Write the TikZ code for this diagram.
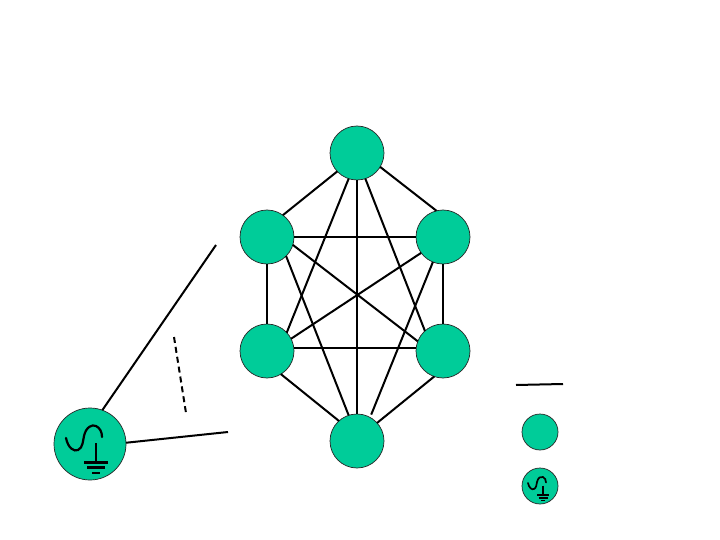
\documentclass[tikz,border=0pt]{standalone}
\definecolor{nodegreen}{HTML}{00CC99}
\tikzset{
  x=1pt,y=-1pt,
  station/.style={circle,draw=black!85,line width=.7pt,fill=nodegreen,inner sep=0pt,outer sep=0pt,minimum size=54pt},
  bigsource/.style={station,minimum size=72pt},
  smallnode/.style={station,minimum size=36pt},
  link/.style={draw=black,line width=2pt},
  srcline/.style={draw=black,line width=2.2pt},
  srcsym/.pic={
    \draw[srcline,line cap=round] (-24,-6) .. controls (-22,4) and (-16,8) .. (-12,6) .. controls (-7,4) and (-7,-4) .. (-6,-8) .. controls (-4,-17) and (2,-20) .. (6,-18) .. controls (10,-16) and (12,-12) .. (12,-7);
    \draw[srcline] (6,-1) -- (6,18);
    \draw[srcline] (-6,18.5) -- (18,18.5);
    \draw[srcline] (-3,23.5) -- (15,23.5);
    \draw[srcline] (2,29) -- (10,29);
  }
}
\begin{document}
\begin{tikzpicture}
\useasboundingbox (0,0) rectangle (720,540);
\fill[white] (0,0) rectangle (720,540);
\node[station] (T) at (357,153) {};
\node[station] (UL) at (267,237) {};
\node[station] (UR) at (443,237) {};
\node[station] (LL) at (267,351) {};
\node[station] (LR) at (443,351) {};
\node[station] (B) at (357,441) {};
\node[bigsource] (S) at (90,444) {};
\node[smallnode] (KN) at (540,432) {};
\node[smallnode] (KS) at (540,486) {};
\pic at (S.center) {srcsym};
\begin{scope}[srcline/.style={draw=black,line width=1.7pt}]
\pic[scale=.5] at (KS.center) {srcsym};
\end{scope}
\coordinate (f1) at (216,245);
\coordinate (f2) at (228,432);
\coordinate (d1) at (174,337);
\coordinate (d2) at (186,413);
\coordinate (k1) at (516,385);
\coordinate (k2) at (563,384);
\draw[link] (T.223) -- (UL.54);
\draw[link] (T.-31) -- (UR.104);
\draw[link] (T.-108) -- (LL.43);
\draw[link] (T.-72) -- (LR.132);
\draw[link] (T) -- (B);
\draw[link] (UL) -- (UR);
\draw[link] (UL) -- (LL);
\draw[link] (UR) -- (LR);
\draw[link] (LL.6) -- (LR.174);
\draw[link] (UL.-17) -- (LR.159);
\draw[link] (UR.216) -- (LL.27);
\draw[link] (UL.-45) -- (B.108);
\draw[link,shorten >=3pt] (UR.-112) -- (B.61);
\draw[link] (LL.-59) -- (B.132);
\draw[link] (LR.-109) -- (B.42);
\draw[link] (S.70) -- (f1);
\draw[link] (S.2) -- (f2);
\draw[link,dash pattern=on 6pt off 4pt] (d1) -- (d2);
\draw[link] (k1) -- (k2);
\end{tikzpicture}
\end{document}
